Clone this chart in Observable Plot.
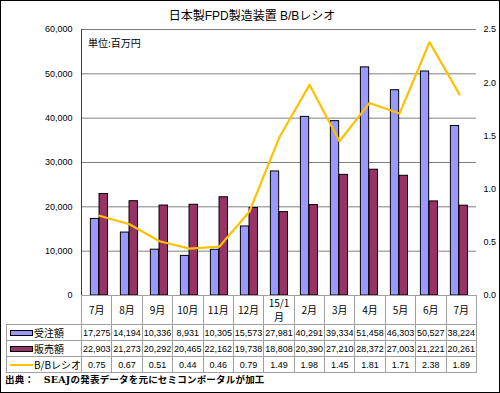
<!DOCTYPE html>
<html><head><meta charset="utf-8">
<script src="https://cdn.jsdelivr.net/npm/d3@7"></script>
<script src="https://cdn.jsdelivr.net/npm/@observablehq/plot@0.6"></script>
<style>
body{margin:0;background:#fff;}
#wrap{position:relative;width:500px;height:393px;overflow:hidden;background:#fff;font-family:"Liberation Sans","Noto Sans CJK JP",sans-serif;color:#000;}
#frame{position:absolute;left:0;top:0;width:500px;height:393px;box-sizing:border-box;border:1px solid #000;pointer-events:none;z-index:5;}
#title{position:absolute;top:9px;left:2px;width:500px;text-align:center;font-size:12px;line-height:14px;font-family:"Liberation Sans","Noto Sans CJK JP",sans-serif;}
#unit{position:absolute;left:88px;top:37px;font-size:10px;line-height:12px;font-family:"Noto Sans CJK JP",sans-serif;}
#chart{position:absolute;left:0;top:0;}
#tbl{position:absolute;left:6px;top:295px;border-collapse:collapse;table-layout:fixed;width:470px;font-size:9px;}
#tbl td{border:1px solid #a0a0a0;padding:0;text-align:center;white-space:nowrap;overflow:hidden;}
#tbl tr.m td{height:28px;font-size:10px;line-height:14px;font-family:"Noto Sans CJK JP",sans-serif;}
#tbl tr.v td{height:15px;line-height:14px;}
#tbl td.lab{text-align:left;font-size:10px;font-family:"Noto Sans CJK JP",sans-serif;padding-left:3px;}
#tbl td.blank{border-top:hidden;border-left:hidden;}
.sw{display:inline-block;width:21px;height:4px;border:1px solid #000;vertical-align:middle;margin-right:1px;position:relative;top:-1px;}
.ln{display:inline-block;width:23px;height:2px;vertical-align:middle;margin-right:1px;position:relative;top:-1px;}
#foot{position:absolute;left:5px;top:374px;font-size:9.5px;line-height:12px;font-weight:bold;font-family:"DejaVu Serif","Noto Sans CJK JP",serif;letter-spacing:0.2px;}
</style></head>
<body>
<div id="wrap">
  <div id="chart"></div>
  <div id="title"></div>
  <div id="unit"></div>
  <table id="tbl"></table>
  <div id="foot"></div>
  <div id="frame"></div>
</div>
<script>
const titleText = "日本製FPD製造装置 B/Bレシオ";
const unitText = "単位:百万円";
const footText = "出典：　SEAJの発表データを元にセミコンポータルが加工";
const months = ["7月","8月","9月","10月","11月","12月","15/1月","2月","3月","4月","5月","6月","7月"];
const orders = [17275,14194,10336,8931,10305,15573,27981,40291,39334,51458,46303,50527,38224];
const sales  = [22903,21273,20292,20465,22162,19738,18808,20390,27210,28372,27003,21221,20261];
const ratio  = [0.75,0.67,0.51,0.44,0.46,0.79,1.49,1.98,1.45,1.81,1.71,2.38,1.89];
const seriesNames = ["受注額","販売額","B/Bレシオ"];
const leftTicks = [0,10000,20000,30000,40000,50000,60000];
const rightTicks = [0,0.5,1.0,1.5,2.0,2.5];
const colors = {orders:"#9999FF", sales:"#993366", ratio:"#FFC000"};

const K = 60000/2.5;
const keys = months.map((m,i)=>i+":"+m);
const data = months.map((m,i)=>({key:keys[i], month:m, orders:orders[i], sales:sales[i], ratio:ratio[i]}));

const W = 500, H = 305, mL = 81, mR = 24, mT = 29, mB = 10;
const bw = (W - mL - mR) / months.length;

const chart = Plot.plot({
  width: W, height: H,
  marginLeft: mL, marginRight: mR, marginTop: mT, marginBottom: mB,
  style: {fontFamily: "Liberation Sans, Arial, sans-serif", fontSize: "9px", background: "transparent"},
  x: {domain: keys, padding: 0, axis: null},
  y: {domain: [0, 60000], axis: null},
  marks: [
    Plot.ruleY(leftTicks, {stroke: "#808080", strokeWidth: 1}),
    Plot.axisY(leftTicks, {anchor: "left", tickSize: 0, tickPadding: 9, tickFormat: d3.format(","), fontSize: 9, label: null}),
    Plot.axisY(rightTicks.map(v => v*K), {anchor: "right", tickSize: 0, tickPadding: 7, textAnchor: "start", tickFormat: d => (d/K).toFixed(1), fontSize: 9, label: null}),
    Plot.barY(data, {x: "key", y: "orders", fill: colors.orders, stroke: "#000", strokeWidth: 1, insetLeft: bw*0.21, insetRight: bw*0.505}),
    Plot.barY(data, {x: "key", y: "sales", fill: colors.sales, stroke: "#000", strokeWidth: 1, insetLeft: bw*0.495, insetRight: bw*0.215}),
    Plot.frame({anchor: "left", stroke: "#404040"}),
    Plot.line(data, {x: "key", y: d => d.ratio*K, stroke: colors.ratio, strokeWidth: 2.2})
  ]
});
document.getElementById("chart").appendChild(chart);
document.getElementById("title").textContent = titleText;
document.getElementById("unit").textContent = unitText;
document.getElementById("foot").textContent = footText;

const fmt = d3.format(",");
const tbl = document.getElementById("tbl");
let html = `<colgroup><col style="width:75px">${months.map(()=>`<col style="width:${bw}px">`).join("")}</colgroup>`;
html += `<tr class="m"><td class="blank"></td>${months.map(m => `<td>${m.length > 3 ? m.slice(0,-1)+"<br>"+m.slice(-1) : m}</td>`).join("")}</tr>`;
html += `<tr class="v"><td class="lab"><span class="sw" style="background:${colors.orders}"></span>${seriesNames[0]}</td>${orders.map(v=>`<td>${fmt(v)}</td>`).join("")}</tr>`;
html += `<tr class="v"><td class="lab"><span class="sw" style="background:${colors.sales}"></span>${seriesNames[1]}</td>${sales.map(v=>`<td>${fmt(v)}</td>`).join("")}</tr>`;
html += `<tr class="v"><td class="lab"><span class="ln" style="background:${colors.ratio}"></span>${seriesNames[2]}</td>${ratio.map(v=>`<td>${v.toFixed(2)}</td>`).join("")}</tr>`;
tbl.innerHTML = html;
</script>
</body></html>
